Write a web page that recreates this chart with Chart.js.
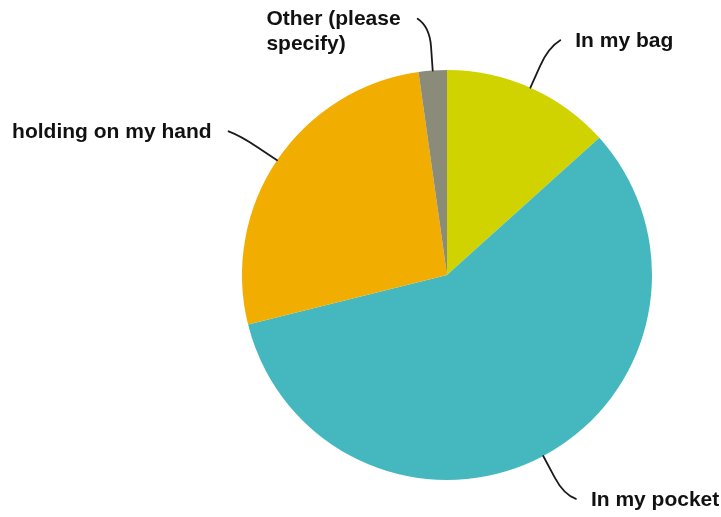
<!DOCTYPE html>
<html>
<head>
<meta charset="utf-8">
<script src="https://cdn.jsdelivr.net/npm/chart.js@4"></script>
<style>
  html, body { margin: 0; padding: 0; background: #fff; }
  #wrap { width: 721px; height: 517px; }
</style>
</head>
<body>
<div id="wrap"><canvas id="pie" width="721" height="517"></canvas></div>
<script>
// Where people keep their phone
const answers = ['In my bag', 'In my pocket', 'holding on my hand', ['Other (please', 'specify)']];
const responses = [6, 26, 12, 1];
const sliceColors = ['#D1D300', '#45B8BF', '#F2AE00', '#8A8B79'];

// Draws outside labels with a curved leader line from each slice
const leaderLabels = {
    id: 'leaderLabels',
    afterDatasetsDraw(chart) {
        const ctx = chart.ctx;
        const meta = chart.getDatasetMeta(0);
        ctx.save();
        ctx.font = 'bold 21px "Liberation Sans", Arial, sans-serif';
        ctx.fillStyle = '#111';
        ctx.strokeStyle = '#1a1a1a';
        ctx.lineWidth = 1.8;
        ctx.lineCap = 'round';
        ctx.textBaseline = 'middle';
        ctx.textAlign = 'left';
        meta.data.forEach((arc, i) => {
            const mid = (arc.startAngle + arc.endAngle) / 2;
            const r = arc.outerRadius;
            const cx = arc.x, cy = arc.y;
            const dx = Math.cos(mid), dy = Math.sin(mid);
            const right = dx >= 0;
            const p0 = { x: cx + dx * r, y: cy + dy * r };
            const p1 = { x: cx + dx * (r + 24), y: cy + dy * (r + 24) };
            const p2 = { x: cx + dx * (r + 44), y: cy + dy * (r + 44) };
            const lift = dy < 0 ? 8 * dy : 4;
            const end = { x: p2.x + (right ? 12 : -12), y: p2.y + lift };
            ctx.beginPath();
            ctx.moveTo(p0.x, p0.y);
            ctx.lineTo(p1.x, p1.y);
            ctx.quadraticCurveTo(p2.x, p2.y, end.x, end.y);
            ctx.stroke();

            // text block sits beside the line end, lines left-aligned within it
            const lines = [].concat(answers[i]);
            const blockW = Math.max(...lines.map(l => ctx.measureText(l).width));
            const tx = right ? end.x + 15 : end.x - 17 - blockW;
            lines.forEach((line, k) => {
                ctx.fillText(line, tx, end.y + 1 + k * 25);
            });
        });
        ctx.restore();
    }
};

new Chart(document.getElementById('pie').getContext('2d'), {
    type: 'pie',
    data: {
        labels: answers.map(a => [].concat(a).join(' ')),
        datasets: [{
            data: responses,
            backgroundColor: sliceColors,
            borderWidth: 0
        }]
    },
    options: {
        responsive: false,
        animation: false,
        layout: {
            padding: { left: 242, right: 69, top: 70, bottom: 37 }
        },
        plugins: {
            legend: { display: false },
            tooltip: { enabled: false }
        }
    },
    plugins: [leaderLabels]
});
</script>
</body>
</html>
